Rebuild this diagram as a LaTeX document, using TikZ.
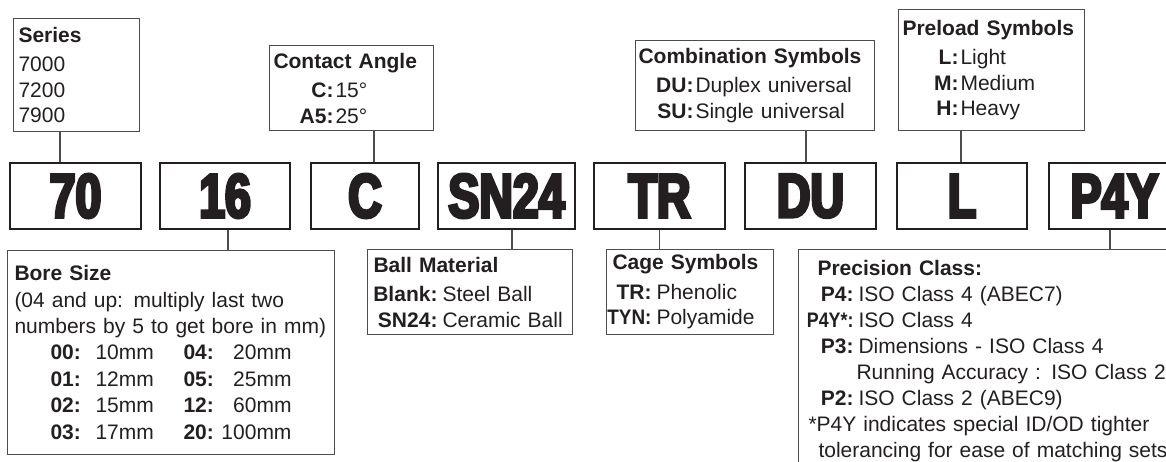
\documentclass[tikz,border=0pt]{standalone}
\usepackage{fontspec}
\setmainfont{Liberation Sans}
\newfontfamily\codefam[FakeStretch=0.75,FakeBold=5]{Liberation Sans}
\usepackage{tikz}

\definecolor{ink}{HTML}{231F20}
\definecolor{edge}{HTML}{4D4D4D}

% label right-aligned in a fixed width, then its value
\newcommand{\kv}[4][2.5pt]{\makebox[#2][r]{\textbf{#3}}\hspace{#1}#4}
% one row of the bore size table
\newcommand{\borerow}[4]{\hspace*{18pt}\makebox[22.5pt][l]{\textbf{#1}}\makebox[44pt][l]{#2}\makebox[54pt]{\textbf{#3}\hfill#4}}

\begin{document}
\begin{tikzpicture}[x=0.5pt, y=-0.5pt,
    % --- Styles ---
    code/.style={draw=ink, line width=1pt, anchor=north west, minimum height=33pt,
                 inner sep=0pt, text=ink, font=\codefam\bfseries\fontsize{31}{31}\selectfont},
    info/.style={draw=edge, line width=0.5pt, anchor=north west, align=left,
                 inner ysep=0pt, text=ink, font=\fontsize{10.5}{12.75}\selectfont},
    link/.style={draw=edge, line width=0.6pt},
]
\clip (0,0) rectangle (1166,461);

% === Code boxes, left to right ===
\node[code, minimum width=65.5pt] (c70) at (9,162)    {70};
\node[code, minimum width=65pt]   (c16) at (159,162)  {16};
\node[code, minimum width=54pt]   (cC)  at (310,162)  {C};
\node[code, minimum width=68.5pt] (cSN) at (437,162)  {SN24};
\node[code, minimum width=65.5pt] (cTR) at (593,162)  {TR};
\node[code, minimum width=65.5pt] (cDU) at (744,162)  {DU};
\node[code, minimum width=65pt]   (cL)  at (896,162)  {L};
\node[code, minimum width=65.5pt] (cP)  at (1048,162) {P4Y};

% === Legends above ===
\node[info, text width=58pt, inner xsep=2.5pt, minimum height=56.5pt] (series) at (13,18)
    {\textbf{Series}\\[2pt]7000\\7200\\7900};
\node[info, text width=78pt, inner xsep=2pt, minimum height=42.5pt] (contact) at (269,45)
    {\textbf{Contact Angle}\\[2pt]\kv[1pt]{30pt}{C:}{15°}\\\kv[1pt]{30pt}{A5:}{25°}};
\node[info, text width=116.5pt, inner xsep=1.5pt, minimum height=45pt] (combo) at (635,40)
    {\textbf{Combination Symbols}\\[2pt]\kv[1pt]{27.5pt}{DU:}{Duplex universal}\\\kv[1pt]{27.5pt}{SU:}{Single universal}};
\node[info, text width=89pt, inner xsep=2pt, minimum height=60.5pt] (preload) at (898,9)
    {\textbf{Preload Symbols}\\[2pt]\kv[1pt]{28pt}{L:}{Light}\\\kv[1pt]{28pt}{M:}{Medium}\\\kv[1pt]{28pt}{H:}{Heavy}};

% === Legends below ===
\node[info, text width=156.5pt, inner xsep=3.5pt, minimum height=102pt,
      font=\fontsize{10.5}{13.2}\selectfont] (bore) at (7,250)
    {\textbf{Bore Size}\\(04 and up: multiply last two\\numbers by 5 to get bore in mm)\\
     \borerow{00:}{10mm}{04:}{20mm}\\\borerow{01:}{12mm}{05:}{25mm}\\
     \borerow{02:}{15mm}{12:}{60mm}\\\borerow{03:}{17mm}{20:}{100mm}};
\node[info, text width=96.5pt, inner xsep=3pt, minimum height=42.5pt] (ball) at (367,249)
    {\textbf{Ball Material}\\[2pt]\kv{32pt}{Blank:}{Steel Ball}\\\kv{32pt}{SN24:}{Ceramic Ball}};
\node[info, text width=77.5pt, inner xsep=3pt, minimum height=42.5pt] (cage) at (606,249)
    {\textbf{Cage Symbols}\\[2pt]\kv{19.5pt}{TR:}{Phenolic}\\\kv{19.5pt}{\scalebox{0.9}[1]{TYN:}}{Polyamide}};
\node[info, text width=191pt, inner xsep=5pt, inner ysep=5.5pt,
      font=\fontsize{10.5}{13}\selectfont] (prec) at (798,249)
    {\hspace*{4.5pt}\textbf{Precision Class:}\\
     \kv{22.5pt}{P4:}{ISO Class 4 (ABEC7)}\\
     \kv{22.5pt}{\scalebox{0.85}[1]{P4Y*:}}{ISO Class 4}\\
     \kv{22.5pt}{P3:}{Dimensions - ISO Class 4}\\
     \hspace*{24pt}Running Accuracy : ISO Class 2\\
     \kv{22.5pt}{P2:}{ISO Class 2 (ABEC9)}\\
     {*}P4Y indicates special ID/OD tighter\\
     \hspace*{5pt}tolerancing for ease of matching sets};

% === Connectors ===
\draw[link] ([xshift=-7.75pt]c70.north) -- ([xshift=-7.75pt]c70.north |- series.south);
\draw[link] ([xshift=4.5pt]cC.north) -- ([xshift=4.5pt]cC.north |- contact.south);
\draw[link] ([xshift=-2.25pt]cDU.north) -- ([xshift=-2.25pt]cDU.north |- combo.south);
\draw[link] ([xshift=-0.5pt]cL.north) -- ([xshift=-0.5pt]cL.north |- preload.south);
\draw[link] ([xshift=1.5pt]c16.south) -- ([xshift=1.5pt]c16.south |- bore.north);
\draw[link] ([xshift=2.75pt]cSN.south) -- ([xshift=2.75pt]cSN.south |- ball.north);
\draw[link] (cTR.south) -- (cTR.south |- cage.north);
\draw[link] ([xshift=-2.25pt]cP.south) -- ([xshift=-2.25pt]cP.south |- prec.north);

\end{tikzpicture}
\end{document}
